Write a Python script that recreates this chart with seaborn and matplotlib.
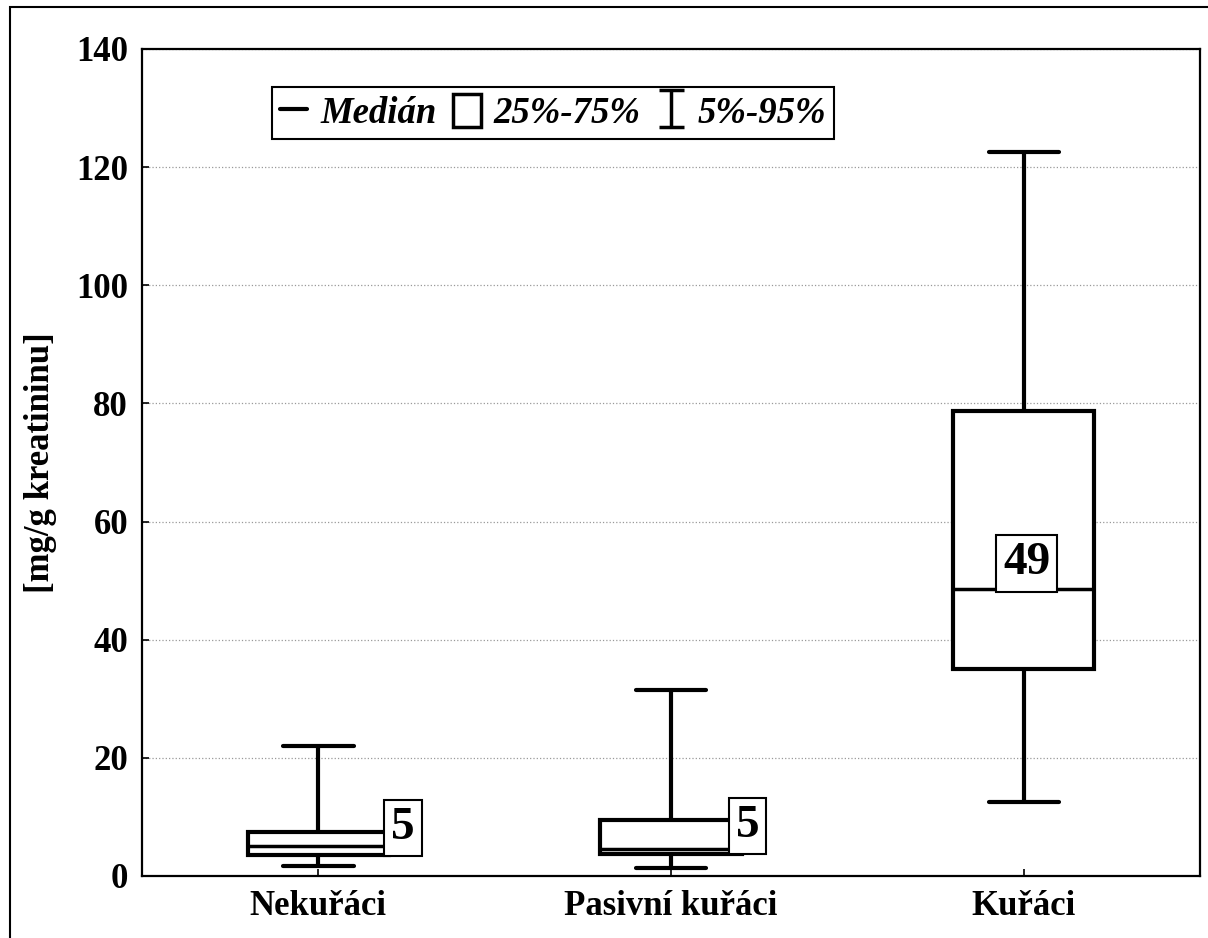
import pandas as pd
import matplotlib.pyplot as plt
from matplotlib.lines import Line2D
from matplotlib.patches import Patch, Rectangle
import seaborn as sns

# Values
categories = ["Nekuřáci", "Pasivní kuřáci", "Kuřáci"]
p05 = [1.7, 1.35, 12.5]
q1 = [3.5, 3.7, 35.0]
medians = [5.1, 4.6, 48.6]
q3 = [7.4, 9.5, 78.7]
p95 = [22.0, 31.5, 122.5]

# label positions for the median boxes (offset from category, y in data units)
label_dx = [0.24, 0.217, 0.008]
label_y = [8.1, 8.4, 52.9]

y_ticks = [0, 20, 40, 60, 80, 100, 120, 140]


def main():
    sns.set_theme(style="ticks")
    plt.rcParams["font.family"] = ["Liberation Serif", "DejaVu Serif"]
    plt.rcParams["font.weight"] = "bold"
    for key in ("text.color", "axes.labelcolor", "xtick.color", "ytick.color"):
        plt.rcParams[key] = "black"

    # five summary values per group -> box at q1/median/q3, whiskers at min/max
    rows = []
    for i, cat in enumerate(categories):
        for v in (p05[i], q1[i], medians[i], q3[i], p95[i]):
            rows.append({"group": cat, "value": v})
    df = pd.DataFrame(rows)

    fig = plt.figure(figsize=(12.08, 9.38), dpi=100)
    ax = fig.add_axes([0.1175, 0.0661, 0.876, 0.8817])

    sns.boxplot(data=df, x="group", y="value", order=categories, ax=ax,
                whis=(0, 100), showfliers=False, width=0.4,
                color="white", linecolor="black", linewidth=3,
                medianprops={"linewidth": 2.5, "color": "black"})

    # median value boxes
    for i, m in enumerate(medians):
        ax.text(i + label_dx[i], label_y[i], f"{round(m)}",
                ha="center", va="center", fontsize=34, fontweight="bold",
                color="black",
                bbox=dict(boxstyle="square,pad=0.15", facecolor="white",
                          edgecolor="black", linewidth=1.5), zorder=5)

    ax.set_ylim(0, 140)
    ax.set_xlim(-0.5, 2.5)
    ax.set_yticks(y_ticks)
    ax.yaxis.grid(True, linestyle=":", color="#999999", linewidth=0.9)
    ax.set_axisbelow(True)
    ax.tick_params(axis="both", direction="in", length=5, width=1.2,
                   labelsize=25, pad=10, colors="black")
    for lab in ax.get_xticklabels() + ax.get_yticklabels():
        lab.set_fontweight("bold")
    ax.set_xlabel("")
    ax.set_ylabel("[mg/g kreatininu]", fontsize=25, fontweight="bold",
                  labelpad=14, color="black")
    for sp in ax.spines.values():
        sp.set_visible(True)
        sp.set_linewidth(1.6)
        sp.set_color("black")

    # legend
    eb = ax.errorbar([0], [-100], yerr=[1], fmt="none", ecolor="black",
                     elinewidth=2.5, capsize=9, capthick=2.5)
    handles = [
        Line2D([], [], color="black", linewidth=3),
        Patch(facecolor="white", edgecolor="black", linewidth=2.5),
        eb,
    ]
    labels = ["Medián", "25%-75%", "5%-95%"]
    leg = ax.legend(handles, labels, loc="center",
                    bbox_to_anchor=(0.3885, 0.923), ncol=3,
                    prop={"family": "Liberation Serif", "weight": "bold",
                          "style": "italic", "size": 26.5},
                    handlelength=0.75, handleheight=1.0, handletextpad=0.35,
                    columnspacing=0.45, borderpad=0.2, borderaxespad=0,
                    fancybox=False, framealpha=1, edgecolor="black")
    leg.get_frame().set_linewidth(1.5)
    for t in leg.get_texts():
        t.set_color("black")

    # outer frame around the figure (partly cropped)
    fig.patches.append(Rectangle((10 / 1208, -0.05), 1.2, 1 - 7 / 938 + 0.05,
                                 transform=fig.transFigure, fill=False,
                                 edgecolor="black", linewidth=1.5))

    fig.savefig("out.png", dpi=100)
    plt.close(fig)


if __name__ == "__main__":
    main()
